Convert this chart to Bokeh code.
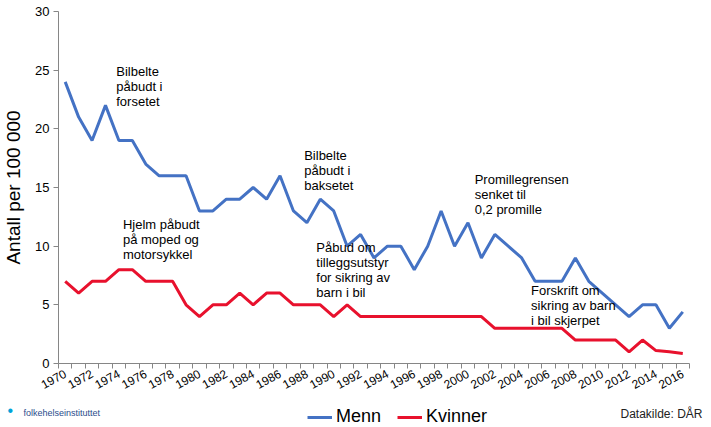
from bokeh.plotting import figure
from bokeh.layouts import column
from bokeh.models import Label, Legend, LegendItem, FixedTicker, Range1d
from bokeh.embed import file_html
from bokeh.resources import INLINE

years = list(range(1970, 2017))
menn = [24, 21, 19, 22, 19, 19, 17, 16, 16, 16,
        13, 13, 14, 14, 15, 14, 16, 13, 12, 14,
        13, 10, 11, 9, 10, 10, 8, 10, 13, 10,
        12, 9, 11, 10, 9, 7, 7, 7, 9, 7,
        6, 5, 4, 5, 5, 3, 4.4]
kvinner = [7, 6, 7, 7, 8, 8, 7, 7, 7, 5,
           4, 5, 5, 6, 5, 6, 6, 5, 5, 5,
           4, 5, 4, 4, 4, 4, 4, 4, 4, 4,
           4, 4, 3, 3, 3, 3, 3, 3, 2, 2,
           2, 2, 1, 2, 1.1, 1, 0.85]
tick_years = list(range(1970, 2017, 2))
y_ticks = [0, 5, 10, 15, 20, 25, 30]
series_names = ["Menn", "Kvinner"]
notes = [
    ("Bilbelte\npåbudt i\nforsetet", 1973.8, 25.5),
    ("Bilbelte\npåbudt i\nbaksetet", 1987.8, 18.4),
    ("Promillegrensen\nsenket til\n0,2 promille", 2000.5, 16.3),
    ("Hjelm påbudt\npå moped og\nmotorsykkel", 1974.3, 12.5),
    ("Påbud om\ntilleggsutstyr\nfor sikring av\nbarn i bil", 1988.7, 10.5),
    ("Forskrift om\nsikring av barn\ni bil skjerpet", 2004.7, 6.85),
]

FONT = "Liberation Sans"
BLUE = "#4472C4"
RED = "#E8112D"
GREY = "#868686"
W = 703

p = figure(width=W, height=399, output_backend="svg", toolbar_location=None,
           x_range=Range1d(1969.5, 2016.5), y_range=Range1d(0, 30),
           min_border_left=58, min_border_right=14, min_border_top=11,
           min_border_bottom=36)
p.outline_line_color = None
p.grid.visible = False

p.line(years, menn, line_color=BLUE, line_width=3)
p.line(years, kvinner, line_color=RED, line_width=3)

xa = p.xaxis[0]
xa.ticker = FixedTicker(ticks=tick_years, minor_ticks=[y - 0.5 for y in range(1970, 2018)])
xa.major_tick_out = 0
xa.major_tick_in = 0
xa.minor_tick_out = 5
xa.minor_tick_in = 0
xa.minor_tick_line_color = GREY
xa.axis_line_color = GREY
xa.major_label_orientation = 0.5
xa.major_label_standoff = 4
xa.major_label_text_font = FONT
xa.major_label_text_font_size = "12px"
xa.major_label_text_color = "#000000"

ya = p.yaxis[0]
ya.ticker = FixedTicker(ticks=y_ticks)
ya.major_tick_out = 5
ya.major_tick_in = 0
ya.minor_tick_out = 0
ya.minor_tick_in = 0
ya.major_tick_line_color = GREY
ya.axis_line_color = GREY
ya.major_label_text_font = FONT
ya.major_label_text_font_size = "13px"
ya.major_label_text_color = "#000000"
ya.major_label_standoff = 4
ya.axis_label = "Antall per 100 000"
ya.axis_label_text_font = FONT
ya.axis_label_text_font_size = "19px"
ya.axis_label_text_font_style = "normal"
ya.axis_label_text_color = "#000000"
ya.axis_label_standoff = 8

for txt, x, y in notes:
    p.add_layout(Label(x=x, y=y, text=txt, text_font=FONT, text_font_size="13px",
                       text_baseline="top", text_align="left", text_color="#000000",
                       text_line_height=1.0))

# footer with legend and source texts
f = figure(width=W, height=28, output_backend="svg", toolbar_location=None,
           x_range=Range1d(0, W), y_range=Range1d(0, 28),
           min_border=0, x_axis_type=None, y_axis_type=None)
f.outline_line_color = None
f.grid.visible = False
try:
    f.frame_align = False
    p.frame_align = False
except Exception:
    pass
# same series drawn far outside the footer's visible range: only their legend swatches show
l1 = f.line(years, menn, line_color=BLUE, line_width=3)
l2 = f.line(years, kvinner, line_color=RED, line_width=3)
legend = Legend(items=[LegendItem(label=series_names[0], renderers=[l1]),
                       LegendItem(label=series_names[1], renderers=[l2])],
                orientation="horizontal", location=(307, 0),
                label_text_font=FONT, label_text_font_size="18px",
                label_text_color="#000000",
                glyph_width=25, glyph_height=20, label_standoff=4, spacing=16,
                padding=0, margin=0, border_line_color=None,
                background_fill_alpha=0)
f.add_layout(legend, "center")
f.add_layout(Label(x=702, y=14, x_units="screen", y_units="screen",
                   text="Datakilde: DÅR", text_font=FONT, text_font_size="12px",
                   text_align="right", text_baseline="middle", text_color="#222222"))
f.add_layout(Label(x=23, y=15, x_units="screen", y_units="screen",
                   text="folkehelseinstituttet", text_font=FONT, text_font_size="9px",
                   text_align="left", text_baseline="middle", text_color="#2A4C8C"))
f.add_layout(Label(x=7, y=17, x_units="screen", y_units="screen",
                   text="•", text_font=FONT, text_font_size="16px",
                   text_align="left", text_baseline="middle", text_color="#00A3D9"))

layout = column(p, f, spacing=0)
open("out.html", "w").write(file_html(layout, INLINE))
